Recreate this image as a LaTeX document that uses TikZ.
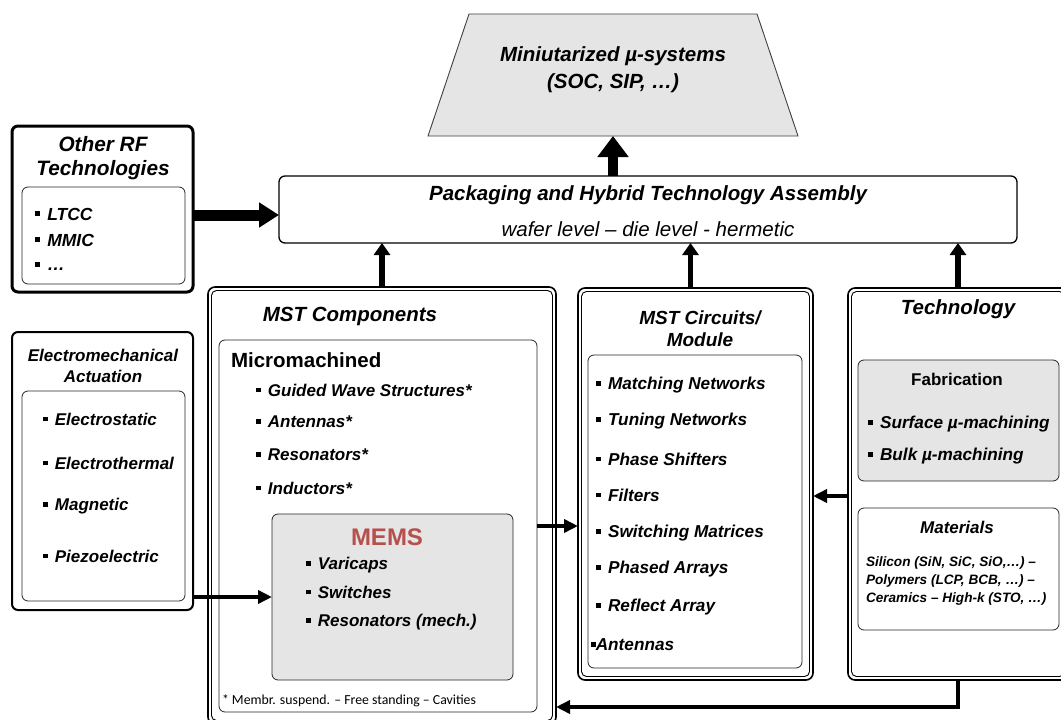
\documentclass[tikz,border=0pt]{standalone}
\usepackage{fontspec}
\setmainfont{Liberation Sans}
\newfontfamily\notefont{Carlito}
\usetikzlibrary{arrows.meta,fit}
\newcommand\fsz[1]{\fontsize{#1pt}{#1pt}\selectfont}
\newcommand\sqb{\rule[0.22em]{0.28em}{0.28em}\hspace{0.42em}}
\definecolor{memsred}{HTML}{B5504C}
\begin{document}
\begin{tikzpicture}[x=1pt,y=-1pt,
  every node/.style={inner sep=0pt, outer sep=0pt},
  frame/.style={draw, rounded corners=6pt, inner sep=0pt},
  heavy/.style={frame, line width=3pt},
  medium/.style={frame, line width=2pt},
  panel/.style={frame, line width=0.8pt, draw=black!85},
  outerdbl/.style={frame, line width=1.6pt, rounded corners=7pt},
  innerdbl/.style={draw, line width=0.9pt, rounded corners=5pt},
  shade/.style={fill=black!10},
  title/.style={font=\fsz{#1}\bfseries\itshape, align=center},
  item/.style={anchor=west, font=\fsz{#1}\bfseries\itshape},
  bigarrow/.style={line width=10pt, -{Triangle[width=30pt,length=21pt]}},
  sidearrow/.style={line width=11pt, -{Triangle[width=24pt,length=20pt]}},
  uparrow/.style={line width=5.5pt, -{Triangle[width=16pt,length=12pt]}},
  midarrow/.style={line width=4.5pt, -{Triangle[width=13pt,length=14pt]}},
]
\useasboundingbox (0,0) rectangle (1061,720);
\fill[white] (0,0) rectangle (1061,720);
\clip (0,0) rectangle (1061,720);

% ---- top: miniaturized systems ----
\draw[fill=black!10, draw=black!75, line width=0.9pt]
  (469,14) -- (757,14) -- (798,136) -- (428,136) -- cycle;
\node[title=20.5] (sys) at (613,69.5) {Miniutarized µ-systems\\[6pt](SOC, SIP, …)};
\coordinate (sysbase) at (613,136);

% ---- packaging ----
\node[frame, line width=1.3pt, fit={(279,176)(1017,243)}] (pkg) {};
\node[font=\fsz{20.5}\bfseries\itshape] (pkgtitle) at (648,195) {Packaging and Hybrid Technology Assembly};
\node[font=\fsz{20.5}\itshape] (pkgsub) at (648,229) {wafer level – die level - hermetic};

% ---- other RF technologies ----
\node[heavy, fit={(12,126)(193,292)}] (rf) {};
\node[panel, fit={(22,187)(185,284)}] (rfin) {};
\node[title=20.8] (rftitle) at (103,158) {Other RF\\[3pt]Technologies};
\node[item=17.5] (rf1) at (35,214) {\sqb LTCC};
\node[item=17.5] (rf2) at (35,240) {\sqb MMIC};
\node[item=17.5] (rf3) at (35,266) {\sqb …};

% ---- electromechanical actuation ----
\node[medium, fit={(12,332)(193,610)}] (emech) {};
\node[panel, fit={(22,391)(185,601)}] (emechin) {};
\node[title=17] (emtitle) at (103,365.5) {Electromechanical\\[4pt]Actuation};
\node[item=17] (em1) at (43,419) {\sqb Electrostatic};
\node[item=17] (em2) at (43,463) {\sqb Electrothermal};
\node[item=17] (em3) at (43,506) {\sqb Magnetic};
\node[item=17] (em4) at (43,556) {\sqb Piezoelectric};

% ---- MST components ----
\node[outerdbl, fit={(208,287)(556,724)}] (comp) {};
\draw[innerdbl] ([shift={(3.5pt,-3.5pt)}]comp.north west) rectangle ([shift={(-3.5pt,3.5pt)}]comp.south east);
\node[font=\fsz{20.5}\bfseries\itshape] (comptitle) at (350,316) {MST Components};
\node[panel, fit={(219,340)(537,712)}] (micro) {};
\node[anchor=west, font=\fsz{20.5}\bfseries] (microtitle) at (231,360) {Micromachined};
\node[item=17] (mc1) at (256,390) {\sqb Guided Wave Structures*};
\node[item=17] (mc2) at (256,422) {\sqb Antennas*};
\node[item=17] (mc3) at (256,455) {\sqb Resonators*};
\node[item=17] (mc4) at (256,488) {\sqb Inductors*};
\node[panel, shade, fit={(272,514)(513,680)}] (mems) {};
\node[font=\fsz{24}\bfseries, text=memsred] (memstitle) at (387,537) {MEMS};
\node[item=17] (ms1) at (306,565) {\sqb Varicaps};
\node[item=17] (ms2) at (306,592) {\sqb Switches};
\node[item=17] (ms3) at (306,622) {\sqb Resonators (mech.)};
\node[anchor=west, font=\notefont\fsz{13.8}] (note) at (222,701) {* Membr. suspend. – Free standing – Cavities};

% ---- MST circuits / module ----
\node[outerdbl, fit={(578,288)(813,680)}] (circ) {};
\draw[innerdbl] ([shift={(3.5pt,-3.5pt)}]circ.north west) rectangle ([shift={(-3.5pt,3.5pt)}]circ.south east);
\node[title=19] (circtitle) at (700,329) {MST Circuits/\\[3pt]Module};
\node[panel, fit={(588,355)(802,668)}] (circin) {};
\node[item=17.2] (ci1) at (596,385) {\sqb Matching Networks};
\node[item=17.2] (ci2) at (596,421) {\sqb Tuning Networks};
\node[item=17.2] (ci3) at (596,459) {\sqb Phase Shifters};
\node[item=17.2] (ci4) at (596,495) {\sqb Filters};
\node[item=17.2] (ci5) at (596,533) {\sqb Switching Matrices};
\node[item=17.2] (ci6) at (596,569) {\sqb Phased Arrays};
\node[item=17.2] (ci7) at (596,607) {\sqb Reflect Array};
\node[item=17.2] (ci8) at (591,645) {\rule[0.22em]{0.28em}{0.28em}Antennas};

% ---- technology ----
\node[outerdbl, fit={(848,288)(1068,680)}] (tech) {};
\draw[innerdbl] ([shift={(3.5pt,-3.5pt)}]tech.north west) rectangle ([shift={(-3.5pt,3.5pt)}]tech.south east);
\node[font=\fsz{20.5}\bfseries\itshape] (techtitle) at (958,309) {Technology};
\node[panel, shade, fit={(858,360)(1059,481)}] (fab) {};
\node[font=\fsz{17}\bfseries] (fabtitle) at (957,379) {Fabrication};
\node[item=17.2] (fb1) at (868,424) {\sqb Surface µ-machining};
\node[item=17.2] (fb2) at (868,456) {\sqb Bulk µ-machining};
\node[panel, fit={(858,508)(1059,630)}] (mat) {};
\node[font=\fsz{17}\bfseries\itshape] (mattitle) at (957,527) {Materials};
\node[anchor=north west, align=left, font=\fsz{13.6}\bfseries\itshape] (mattext) at (866,557)
  {Silicon (SiN, SiC, SiO,…) –\\[4.4pt]Polymers (LCP, BCB, …) –\\[4.4pt]Ceramics – High-k (STO, …)};

% ---- connectors ----
\draw[bigarrow] (pkg.north -| sysbase) -- (sysbase);
\draw[sidearrow] ([yshift=-6pt]rf.east) -- ([yshift=-6pt]rf.east -| pkg.west);
\draw[uparrow] (comp.north) -- (comp.north |- pkg.south);
\draw[uparrow] ([xshift=-5pt]circ.north) -- ([xshift=-5pt]circ.north |- pkg.south);
\draw[uparrow] (tech.north) -- (tech.north |- pkg.south);
\draw[midarrow] (emech.east |- mems.west) -- (mems.west);
\draw[midarrow] (micro.east) -- (micro.east -| circ.west);
\draw[midarrow] ([yshift=-12pt]tech.west) -- ([yshift=-12pt]tech.west -| circ.east);
\draw[midarrow] (tech.south) |- ([yshift=17pt]comp.south east);
\end{tikzpicture}
\end{document}
